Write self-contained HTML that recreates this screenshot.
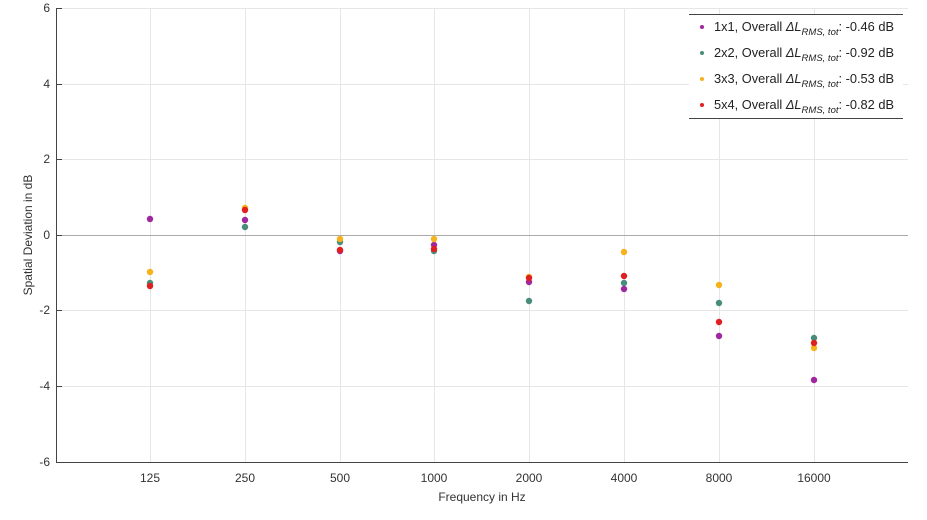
<!DOCTYPE html>
<html><head><style>body{margin:0;background:#fff}svg{display:block;font-family:"Liberation Sans",sans-serif}</style></head><body>
<svg width="927" height="520" xmlns="http://www.w3.org/2000/svg">
<g stroke="#e6e6e6" stroke-width="1">
<line x1="56" y1="8.5" x2="908" y2="8.5"/><line x1="56" y1="84.5" x2="908" y2="84.5"/><line x1="56" y1="159.5" x2="908" y2="159.5"/><line x1="56" y1="310.5" x2="908" y2="310.5"/><line x1="56" y1="386.5" x2="908" y2="386.5"/>
<line x1="150.5" y1="8" x2="150.5" y2="462"/><line x1="245.5" y1="8" x2="245.5" y2="462"/><line x1="340.5" y1="8" x2="340.5" y2="462"/><line x1="434.5" y1="8" x2="434.5" y2="462"/><line x1="529.5" y1="8" x2="529.5" y2="462"/><line x1="624.5" y1="8" x2="624.5" y2="462"/><line x1="719.5" y1="8" x2="719.5" y2="462"/><line x1="814.5" y1="8" x2="814.5" y2="462"/>
</g>
<line x1="56" y1="235.5" x2="908" y2="235.5" stroke="#aaa"/>
<line x1="56.5" y1="8" x2="56.5" y2="462" stroke="#444"/>
<line x1="56" y1="462.5" x2="908" y2="462.5" stroke="#444"/>
<g stroke="#444"><line x1="56" y1="8.5" x2="62" y2="8.5"/><line x1="56" y1="84.5" x2="62" y2="84.5"/><line x1="56" y1="159.5" x2="62" y2="159.5"/><line x1="56" y1="235.5" x2="62" y2="235.5"/><line x1="56" y1="310.5" x2="62" y2="310.5"/><line x1="56" y1="386.5" x2="62" y2="386.5"/></g>
<g font-size="12" fill="#333" text-anchor="end">
<text x="50" y="12">6</text><text x="50" y="88">4</text><text x="50" y="163">2</text><text x="50" y="239">0</text><text x="50" y="314">-2</text><text x="50" y="390">-4</text><text x="50" y="466">-6</text></g>
<g font-size="12" fill="#333" text-anchor="middle">
<text x="150" y="482">125</text><text x="245" y="482">250</text><text x="340" y="482">500</text><text x="434" y="482">1000</text><text x="529" y="482">2000</text><text x="624" y="482">4000</text><text x="719" y="482">8000</text><text x="814" y="482">16000</text>
<text x="482" y="501">Frequency in Hz</text>
<text transform="translate(32,235) rotate(-90)">Spatial Deviation in dB</text></g>
<g fill="#a0289f"><circle cx="150" cy="219" r="3.2"/><circle cx="245" cy="220" r="3.2"/><circle cx="340" cy="251" r="3.2"/><circle cx="434" cy="245" r="3.2"/><circle cx="529" cy="282" r="3.2"/><circle cx="624" cy="289" r="3.2"/><circle cx="719" cy="336" r="3.2"/><circle cx="814" cy="380" r="3.2"/></g>
<g fill="#4a8c7c"><circle cx="150" cy="283" r="3.2"/><circle cx="245" cy="227" r="3.2"/><circle cx="340" cy="242" r="3.2"/><circle cx="434" cy="251" r="3.2"/><circle cx="529" cy="301" r="3.2"/><circle cx="624" cy="283" r="3.2"/><circle cx="719" cy="303" r="3.2"/><circle cx="814" cy="338" r="3.2"/></g>
<g fill="#f5b21a"><circle cx="150" cy="272" r="3.2"/><circle cx="245" cy="208" r="3.2"/><circle cx="340" cy="239" r="3.2"/><circle cx="434" cy="239" r="3.2"/><circle cx="529" cy="277" r="3.2"/><circle cx="624" cy="252" r="3.2"/><circle cx="719" cy="285" r="3.2"/><circle cx="814" cy="348" r="3.2"/></g>
<g fill="#e02020"><circle cx="150" cy="286" r="3.2"/><circle cx="245" cy="210" r="3.2"/><circle cx="340" cy="250" r="3.2"/><circle cx="434" cy="249" r="3.2"/><circle cx="529" cy="278" r="3.2"/><circle cx="624" cy="276" r="3.2"/><circle cx="719" cy="322" r="3.2"/><circle cx="814" cy="343" r="3.2"/></g>
<rect x="689" y="14" width="214" height="104" fill="#fff"/>
<line x1="689" y1="14.5" x2="903" y2="14.5" stroke="#444"/><line x1="689" y1="118.5" x2="903" y2="118.5" stroke="#444"/>
<g font-size="12.8" fill="#222">
<circle cx="702" cy="27" r="2" fill="#a0289f"/><circle cx="702" cy="53" r="2" fill="#4a8c7c"/><circle cx="702" cy="79" r="2" fill="#f5b21a"/><circle cx="702" cy="105" r="2" fill="#e02020"/>
<text x="714" y="31">1x1, Overall <tspan font-style="italic">ΔL</tspan><tspan font-style="italic" font-size="9.5" dy="4">RMS, tot</tspan><tspan dy="-4">: -0.46 dB</tspan></text>
<text x="714" y="57">2x2, Overall <tspan font-style="italic">ΔL</tspan><tspan font-style="italic" font-size="9.5" dy="4">RMS, tot</tspan><tspan dy="-4">: -0.92 dB</tspan></text>
<text x="714" y="83">3x3, Overall <tspan font-style="italic">ΔL</tspan><tspan font-style="italic" font-size="9.5" dy="4">RMS, tot</tspan><tspan dy="-4">: -0.53 dB</tspan></text>
<text x="714" y="109">5x4, Overall <tspan font-style="italic">ΔL</tspan><tspan font-style="italic" font-size="9.5" dy="4">RMS, tot</tspan><tspan dy="-4">: -0.82 dB</tspan></text>
</g>
</svg>
</body></html>
